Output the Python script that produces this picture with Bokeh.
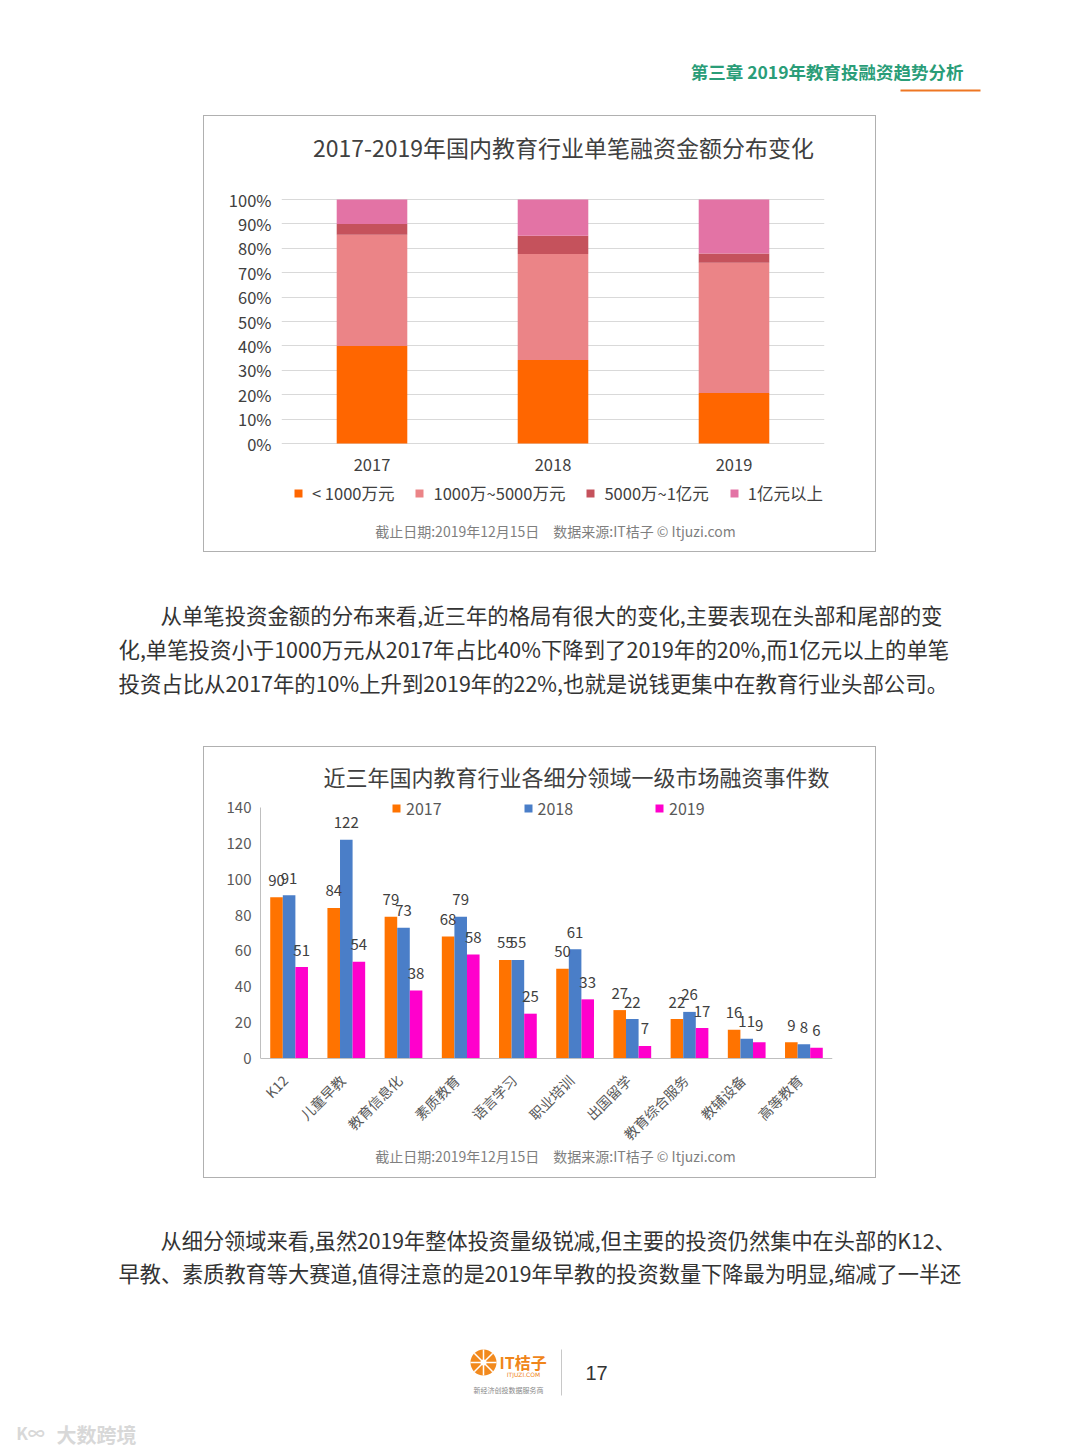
import math
from bokeh.plotting import figure
from bokeh.models import (Range1d, FactorRange, ColumnDataSource, Legend, LegendItem, Label,
                          LabelSet, FixedTicker, PrintfTickFormatter, Spacer, Span)
from bokeh.layouts import column, row
from bokeh.transform import dodge
from bokeh.core.properties import value
from bokeh.embed import file_html
from bokeh.resources import INLINE

FONT = "Noto Sans CJK SC"

# ---------------- data: chart 1 ----------------
years = ["2017", "2018", "2019"]
lt_1000w = [40.0, 34.2, 20.7]
w1000_5000 = [45.6, 43.5, 53.4]
w5000_1y = [4.4, 7.5, 3.8]
gt_1y = [10.0, 14.8, 22.1]
bands = ["< 1000万元", "1000万~5000万元", "5000万~1亿元", "1亿元以上"]
pct_ticks = [0, 10, 20, 30, 40, 50, 60, 70, 80, 90, 100]

# ---------------- data: chart 2 ----------------
domains = ["K12", "儿童早教", "教育信息化", "素质教育", "语言学习", "职业培训",
           "出国留学", "教育综合服务", "教辅设备", "高等教育"]
y2017 = [90, 84, 79, 68, 55, 50, 27, 22, 16, 9]
y2018 = [91, 122, 73, 79, 55, 61, 22, 26, 11, 8]
y2019 = [51, 54, 38, 58, 25, 33, 7, 17, 9, 6]
series_years = ["2017", "2018", "2019"]
count_ticks = [0, 20, 40, 60, 80, 100, 120, 140]

# ---------------- texts ----------------
header_text = "第三章 2019年教育投融资趋势分析"
title1 = "2017-2019年国内教育行业单笔融资金额分布变化"
title2 = "近三年国内教育行业各细分领域一级市场融资事件数"
source_text = "截止日期:2019年12月15日\u3000数据来源:IT桔子 © Itjuzi.com"
para1 = ["从单笔投资金额的分布来看,近三年的格局有很大的变化,主要表现在头部和尾部的变",
         "化,单笔投资小于1000万元从2017年占比40%下降到了2019年的20%,而1亿元以上的单笔",
         "投资占比从2017年的10%上升到2019年的22%,也就是说钱更集中在教育行业头部公司。"]
para2 = ["从细分领域来看,虽然2019年整体投资量级锐减,但主要的投资仍然集中在头部的K12、",
         "早教、素质教育等大赛道,值得注意的是2019年早教的投资数量下降最为明显,缩减了一半还"]
page_number = "17"

colors1 = ["#FF6600", "#EB8487", "#C5525C", "#E373A5"]
colors2 = ["#FF7300", "#4A7EC8", "#FF00CC"]
BOX = {"outline": "1px solid #b0b0b0", "outline-offset": "-1px"}


def page_fig(h, top):
    f = figure(width=1080, height=h, x_range=Range1d(0, 1080), y_range=Range1d(top + h, top),
               min_border=0, output_backend="svg", toolbar_location=None,
               x_axis_type=None, y_axis_type=None, title=None)
    f.outline_line_color = None
    f.grid.visible = False
    f.border_fill_color = None
    return f


# ---------------- header ----------------
hdr = page_fig(115, 0)
hdr.text(x=[963], y=[71], text=[header_text], text_font=value(FONT), text_font_size="17.5px",
         text_font_style="bold", text_color="#2A9D78", text_align="right", text_baseline="middle")
hdr.segment(x0=[900], y0=[90], x1=[980], y1=[90], line_color="#EE7623", line_width=2)

# ---------------- chart 1 ----------------
p1 = figure(width=673, height=437, x_range=FactorRange(*years), y_range=Range1d(-43.0, 132.4),
            output_backend="svg", toolbar_location=None, title=None, x_axis_location=None,
            min_border_left=78, min_border_right=52, min_border_top=5, min_border_bottom=4)
p1.styles = BOX
p1.border_fill_color = None
p1.background_fill_color = None
p1.outline_line_color = None
src1 = ColumnDataSource(dict(year=years, a=lt_1000w, b=w1000_5000, c=w5000_1y, d=gt_1y))
rs1 = p1.vbar_stack(["a", "b", "c", "d"], x="year", width=0.39, color=colors1,
                    line_color=None, source=src1)
p1.yaxis.ticker = FixedTicker(ticks=pct_ticks)
p1.yaxis.formatter = PrintfTickFormatter(format="%d%%")
p1.ygrid.ticker = FixedTicker(ticks=pct_ticks)
p1.ygrid.grid_line_color = "#d9d9d9"
p1.xgrid.visible = False
ax = p1.yaxis[0]
ax.axis_line_color = None
ax.major_tick_line_color = None
ax.minor_tick_line_color = None
ax.major_label_text_font = FONT
ax.major_label_text_font_size = "16.5px"
ax.major_label_text_color = "#404040"
ax.major_label_standoff = 4
# category labels under the bars
p1.add_layout(LabelSet(x="year", y=0, text="year", source=src1, y_offset=-21,
                       text_align="center", text_baseline="middle", text_font=value(FONT),
                       text_font_size="16.5px", text_color="#404040"))
leg1 = Legend(items=[LegendItem(label=b, renderers=[r]) for b, r in zip(bands, rs1)],
              orientation="horizontal", location=(12, 43), padding=0, margin=0,
              spacing=20, glyph_width=10, glyph_height=10, label_standoff=9,
              border_line_color=None, background_fill_alpha=0,
              label_text_font=FONT, label_text_font_size="16.5px", label_text_color="#404040")
p1.add_layout(leg1)
p1.add_layout(Label(x=274, y=18, x_units="screen", y_units="screen", text=source_text,
                    text_font=FONT, text_font_size="14px", text_color="#7f7f7f",
                    text_align="center", text_baseline="middle"))
p1.add_layout(Label(x=282, y=402, x_units="screen", y_units="screen", text=title1,
                    text_font=FONT, text_font_size="23px", text_color="#404040",
                    text_align="center", text_baseline="middle"))

# ---------------- middle text ----------------
mid = page_fig(194, 552)
mid.text(x=[160, 118, 118], y=[614, 648, 682], text=para1, text_font=value(FONT),
         text_font_size="21.4px", text_color="#333333", text_align="left", text_baseline="middle")

# ---------------- chart 2 ----------------
p2 = figure(width=673, height=432, x_range=FactorRange(*domains), y_range=Range1d(-64.7, 171.8),
            output_backend="svg", toolbar_location=None, title=None, x_axis_location=None,
            min_border_left=57, min_border_right=44, min_border_top=4, min_border_bottom=4)
p2.styles = BOX
p2.border_fill_color = None
p2.background_fill_color = None
p2.outline_line_color = None
src2 = ColumnDataSource(dict(d=domains, y17=y2017, y18=y2018, y19=y2019,
                             t17=[str(v) for v in y2017], t18=[str(v) for v in y2018],
                             t19=[str(v) for v in y2019]))
offs = [-0.22, 0.0, 0.22]
rs2 = []
for (col, tcol), off, c in zip([("y17", "t17"), ("y18", "t18"), ("y19", "t19")], offs, colors2):
    r = p2.vbar(x=dodge("d", off, range=p2.x_range), top=col, width=0.22, color=c,
                line_color=None, source=src2)
    rs2.append(r)
    p2.add_layout(LabelSet(x=dodge("d", off, range=p2.x_range), y=col, text=tcol, source=src2,
                           y_offset=17, text_align="center", text_baseline="middle",
                           text_font=value(FONT), text_font_size="15px", text_color="#404040"))
p2.grid.visible = False
p2.add_layout(Span(location=0, dimension="width", line_color="#bfbfbf", line_width=1))
p2.add_layout(LabelSet(x="d", y=0, text="d", source=src2, angle=math.pi / 4, x_offset=-4,
                       y_offset=-19, text_align="right", text_baseline="middle",
                       text_font=value(FONT), text_font_size="14px", text_color="#595959"))
ay = p2.yaxis[0]
ay.ticker = FixedTicker(ticks=count_ticks)
ay.bounds = (0, 140)
ay.axis_line_color = "#bfbfbf"
ay.major_tick_line_color = None
ay.minor_tick_line_color = None
ay.major_label_text_font = FONT
ay.major_label_text_color = "#595959"
ay.major_label_text_font_size = "15px"
ay.major_label_standoff = 3
leg2 = Legend(items=[LegendItem(label=s, renderers=[r]) for s, r in zip(series_years, rs2)],
              orientation="horizontal", location=(131, 354), padding=0, margin=0,
              spacing=81, glyph_width=10, glyph_height=10, label_standoff=5,
              border_line_color=None, background_fill_alpha=0,
              label_text_font=FONT, label_text_font_size="16px", label_text_color="#595959")
p2.add_layout(leg2)
p2.add_layout(Label(x=295, y=19, x_units="screen", y_units="screen", text=source_text,
                    text_font=FONT, text_font_size="14px", text_color="#7f7f7f",
                    text_align="center", text_baseline="middle"))
p2.add_layout(Label(x=316, y=399, x_units="screen", y_units="screen", text=title2,
                    text_font=FONT, text_font_size="22px", text_color="#404040",
                    text_align="center", text_baseline="middle"))

# ---------------- bottom text + footer ----------------
bot = page_fig(277, 1178)
bot.text(x=[160, 118], y=[1239, 1272], text=para2, text_font=value(FONT),
         text_font_size="21.2px", text_color="#333333", text_align="left", text_baseline="middle")
# logo (orange slice)
bot.circle(x=[483], y=[1362], radius=13, fill_color="#F28A1E", line_color=None)
angs = [i * math.pi / 4 for i in range(4)]
bot.segment(x0=[483 - 13 * math.cos(a) for a in angs], y0=[1362 - 13 * math.sin(a) for a in angs],
            x1=[483 + 13 * math.cos(a) for a in angs], y1=[1362 + 13 * math.sin(a) for a in angs],
            line_color="white", line_width=1.5)
bot.circle(x=[483], y=[1362], radius=3, fill_color="white", line_color=None)
bot.text(x=[499], y=[1361], text=["IT桔子"], text_font=value(FONT), text_font_size="16px",
         text_font_style="bold", text_color="#F08519", text_align="left", text_baseline="middle")
bot.text(x=[523], y=[1374], text=["ITJUZI.COM"], text_font=value("DejaVu Sans"),
         text_font_size="6px", text_color="#F08519", text_align="center", text_baseline="middle")
bot.text(x=[508], y=[1389], text=["新经济创投数据服务商"], text_font=value(FONT),
         text_font_size="7px", text_color="#888888", text_align="center", text_baseline="middle")
bot.segment(x0=[561], y0=[1349], x1=[561], y1=[1395], line_color="#c8c8c8", line_width=1)
bot.text(x=[596], y=[1372], text=[page_number], text_font=value("Liberation Sans"),
         text_font_size="20px", text_color="#333333", text_align="center", text_baseline="middle")
bot.text(x=[96], y=[1434], text=["大数跨境"], text_font=value(FONT), text_font_size="20px",
         text_font_style="bold", text_color="#d8d8d8", text_align="center", text_baseline="middle")
bot.text(x=[30], y=[1432], text=["K∞"], text_font=value(FONT), text_font_size="17px",
         text_font_style="bold", text_color="#d8d8d8", text_align="center", text_baseline="middle")

layout = column(
    hdr,
    row(Spacer(width=203, height=437), p1, Spacer(width=204, height=437)),
    mid,
    row(Spacer(width=203, height=432), p2, Spacer(width=204, height=432)),
    bot,
)

open("out.html", "w").write(file_html(layout, INLINE))
